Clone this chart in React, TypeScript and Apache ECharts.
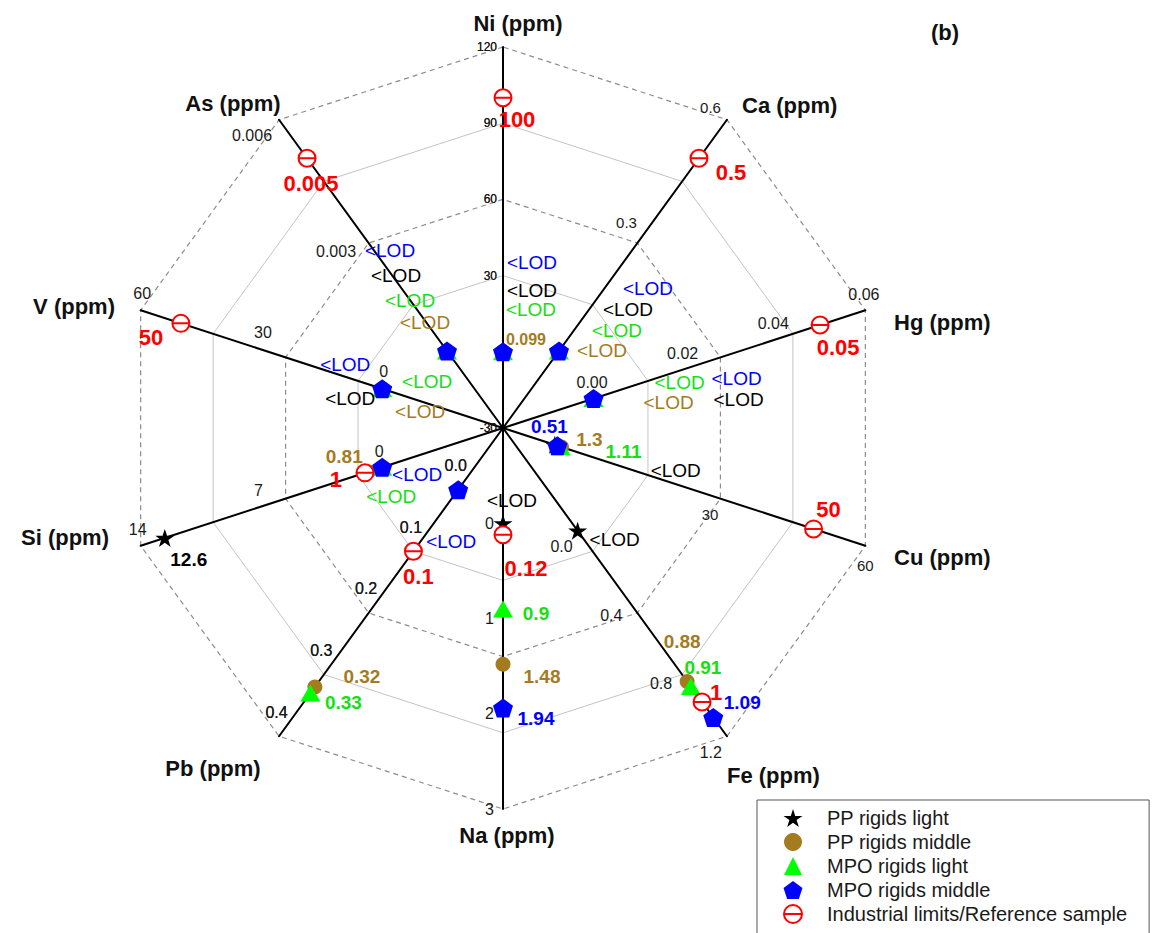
import React, { useEffect, useRef } from 'react';
import * as echarts from 'echarts';

const FONT = '"Liberation Sans", Arial, Helvetica, sans-serif';
const LOD = '<LOD';
type Reading = number | typeof LOD;

// Spokes in the order the radar lays them out (counter-clockwise from the top).
const elements = ['Ni', 'As', 'V', 'Si', 'Pb', 'Na', 'Fe', 'Cu', 'Hg', 'Ca'];
const axisMin = [-30, -0.002, -30, -7, -0.1, -1, -0.6, -10, -0.02, -0.2];
const axisMax = [120, 0.006, 60, 14, 0.4, 3, 1.2, 60, 0.06, 0.6];
const tickLabels = [
  ['-30', '30', '60', '90', '120'],
  ['0.003', '0.006'],
  ['0', '30', '60'],
  ['0', '7', '14'],
  ['0.0', '0.1', '0.2', '0.3', '0.4'],
  ['0', '1', '2', '3'],
  ['0.0', '0.4', '0.8', '1.2'],
  ['30', '60'],
  ['0.00', '0.02', '0.04', '0.06'],
  ['0.3', '0.6'],
];

const seriesNames = [
  'PP rigids light',
  'PP rigids middle',
  'MPO rigids light',
  'MPO rigids middle',
  'Industrial limits/Reference sample',
];
// Readings below the limit of detection sit on the zero of their spoke.
const ppLight: Reading[] = [LOD, LOD, LOD, 12.6, LOD, LOD, LOD, LOD, LOD, LOD];
const ppMiddle: Reading[] = [0.099, LOD, LOD, 0.81, 0.32, 1.48, 0.88, 1.3, LOD, LOD];
const mpoLight: Reading[] = [LOD, LOD, LOD, LOD, 0.33, 0.9, 0.91, 1.11, LOD, LOD];
const mpoMiddle: Reading[] = [LOD, LOD, LOD, LOD, LOD, 1.94, 1.09, 0.51, LOD, LOD];
const limits: Reading[] = [100, 0.005, 50, 1, 0.1, 0.12, 1, 50, 0.05, 0.5];

// ---- layout & styling -------------------------------------------------------

const CENTER = [503, 428];
const RADIUS = 381;

const STAR = 'path://M0,-1L0.2245,-0.309L0.951,-0.309L0.363,0.118L0.588,0.809L0,0.382L-0.588,0.809L-0.363,0.118L-0.951,-0.309L-0.2245,-0.309Z';
const PENTAGON = 'path://M0,-1L0.951,-0.309L0.588,0.809L-0.588,0.809L-0.951,-0.309Z';
const TRIANGLE = 'path://M0,-1L1,1L-1,1Z';
const LIMIT_MARK = 'emptyPath://M-1,0A1,1,0,1,1,1,0A1,1,0,1,1,-1,0ZM-1,0L1,0';

// Which overlaid radar carries each spoke's tick labels (its split count).
const TICK_SPLIT = [5, 8, 9, 9, 5, 8, 9, 7, 8, 8];
const TICK_PLACEMENT: any[] = [
  { align: 'right', verticalAlign: 'middle', padding: [0, 6, 0, 0], fontSize: 12 },
  { align: 'right', verticalAlign: 'top', padding: [8, 7, 0, 0], fontSize: 16 },
  { align: 'center', verticalAlign: 'bottom', padding: [0, 0, 9, 3], fontSize: 16 },
  { align: 'center', verticalAlign: 'bottom', padding: [0, 6, 8, 0], fontSize: 16 },
  { align: 'center', verticalAlign: 'bottom', padding: [0, 5, 16, 0], fontSize: 16 },
  { align: 'right', verticalAlign: 'middle', padding: [2, 9, 0, 0], fontSize: 16 },
  { align: 'right', verticalAlign: 'top', padding: [8, 5, 0, 0], fontSize: 16 },
  { align: 'center', verticalAlign: 'top', padding: [12, 0, 0, 0], fontSize: 15 },
  { align: 'center', verticalAlign: 'bottom', padding: [0, 3, 8, 0], fontSize: 16 },
  { align: 'right', verticalAlign: 'bottom', padding: [0, 6, 5, 0], fontSize: 15 },
];

const NAME_POS: [number, number, string][] = [
  [518, 23, 'center'],
  [233, 103, 'center'],
  [115, 306, 'right'],
  [109, 537, 'right'],
  [213, 768, 'center'],
  [507, 835, 'center'],
  [727, 775, 'left'],
  [894, 557, 'left'],
  [894, 322, 'left'],
  [742, 105, 'left'],
];

// Offset of each value label from its marker: [dx, dy, fontSize?]; null = no label.
type Nudge = [number, number, number?] | null;
const NUDGE_PP_LIGHT: Nudge[] = [[29, -61], [-51, -75], [-32, 10], [24, 22], null, [9, -23], [37, 9], [121, 26], [145, 1], [69, -41]];
const NUDGE_PP_MIDDLE: Nudge[] = [[23, -12, 16], [-22, -28], [38, 23], [-24, -15], [47, -10], [39, 12], [-5, -40], [28, -8], [75, 4], [43, 0]];
const NUDGE_MPO_LIGHT: Nudge[] = [[28, -42], [-37, -50], [45, -7], [9, 29], [33, 9], [33, 5], [12, -19], [63, 5], [86, -16], [58, -20]];
const NUDGE_MPO_MIDDLE: Nudge[] = [[29, -89], [-57, -100], [-37, -24], [35, 7], [-7, 52], [33, 10], [29, -15], [-8, -19], [143, -20], [89, -62]];
const NUDGE_LIMITS: Nudge[] = [[14, 22], [4, 25], [-30, 14], [-29, 7], [5, 25], [23, 34], [14, -9], [15, -19], [18, 23], [32, 14]];

const BROWN = '#A47B1E';

function tickFormatter(i: number) {
  const tol = (axisMax[i] - axisMin[i]) * 1e-6;
  return (v: number) => tickLabels[i].find((s) => Math.abs(parseFloat(s) - v) < tol) ?? '';
}

function indicators(split: number) {
  return elements.map((el, i) => ({
    name: `${el} (ppm)`,
    min: axisMin[i],
    max: axisMax[i],
    axisLabel: {
      show: TICK_SPLIT[i] === split,
      margin: 0,
      color: '#1a1a1a',
      fontFamily: FONT,
      formatter: tickFormatter(i),
      ...TICK_PLACEMENT[i],
    },
  }));
}

function radar(split: number, extra: any) {
  return {
    center: CENTER,
    radius: RADIUS,
    startAngle: 90,
    shape: 'polygon',
    splitNumber: split,
    indicator: indicators(split),
    axisName: { show: false },
    axisTick: { show: false },
    axisLabel: { show: false },
    axisLine: { show: false },
    splitLine: { show: false },
    splitArea: { show: false },
    ...extra,
  };
}

function valueLabel(readings: Reading[], nudges: Nudge[], color: string, valueSize: number) {
  const rich: Record<string, any> = {};
  readings.forEach((r, i) => {
    const n = nudges[i];
    if (!n) return;
    const [dx, dy, size] = n;
    const isLod = r === LOD;
    rich['d' + i] = {
      color,
      fontFamily: FONT,
      fontSize: size ?? (isLod ? 19 : valueSize),
      fontWeight: isLod ? 'normal' : 'bold',
      padding: [Math.max(0, 2 * dy), Math.max(0, -2 * dx), Math.max(0, -2 * dy), Math.max(0, 2 * dx)],
    };
  });
  return {
    show: true,
    position: 'inside',
    color,
    textBorderWidth: 0,
    textBorderColor: 'transparent',
    formatter: (p: any) => {
      const i = p.dimensionIndex;
      if (!nudges[i]) return '';
      const r = readings[i];
      return `{d${i}|${r === LOD ? LOD : String(r)}}`;
    },
    rich,
  };
}

function markerSeries(
  name: string,
  readings: Reading[],
  nudges: Nudge[],
  color: string,
  textColor: string,
  symbol: string,
  symbolSize: number | number[],
  valueSize: number,
) {
  return {
    type: 'radar',
    radarIndex: 0,
    name,
    silent: true,
    symbol,
    symbolSize,
    itemStyle: { color },
    lineStyle: { opacity: 0, width: 0 },
    emphasis: { disabled: true },
    label: valueLabel(readings, nudges, textColor, valueSize),
    data: [{ name, value: readings.map((r) => (r === LOD ? 0 : r)) }],
  };
}

function buildOption() {
  const none = 'none';
  return {
    animation: false,
    backgroundColor: '#ffffff',
    radar: [
      radar(5, {
        axisLine: { show: true, lineStyle: { color: '#000', width: 2 } },
        splitLine: { show: true, lineStyle: { width: 1, color: [none, none, '#c4c4c4', none, '#c4c4c4', none] } },
      }),
      radar(5, {
        splitLine: {
          show: true,
          lineStyle: { width: 1.2, type: [5, 4], color: [none, none, none, '#8c8c8c', none, '#8c8c8c'] },
        },
      }),
      radar(8, {}),
      radar(9, {}),
      radar(7, {}),
    ],
    legend: {
      orient: 'vertical',
      left: 757,
      top: 800,
      height: 300,
      padding: [8, 22, 14, 26],
      itemGap: 4,
      itemWidth: 20,
      itemHeight: 18,
      borderColor: '#555',
      borderWidth: 1,
      selectedMode: false,
      textStyle: { fontSize: 20, fontFamily: FONT, color: '#1a1a1a', padding: [0, 0, 0, 19] },
      data: [
        { name: seriesNames[0], icon: STAR },
        { name: seriesNames[1], icon: 'circle' },
        { name: seriesNames[2], icon: TRIANGLE },
        { name: seriesNames[3], icon: PENTAGON },
        { name: seriesNames[4], icon: LIMIT_MARK },
      ],
    },
    graphic: [
      ...elements.map((el, i) => ({
        type: 'text',
        x: NAME_POS[i][0],
        y: NAME_POS[i][1],
        silent: true,
        style: {
          text: `${el} (ppm)`,
          fontSize: 22,
          fontWeight: 'bold',
          fontFamily: FONT,
          fill: '#111',
          align: NAME_POS[i][2],
          verticalAlign: 'middle',
        },
      })),
      {
        type: 'text',
        x: 945,
        y: 32,
        silent: true,
        style: { text: '(b)', fontSize: 22, fontWeight: 'bold', fontFamily: FONT, fill: '#111', align: 'center', verticalAlign: 'middle' },
      },
    ],
    series: [
      markerSeries(seriesNames[0], ppLight, NUDGE_PP_LIGHT, '#000000', '#000000', STAR, [19, 18], 19),
      markerSeries(seriesNames[1], ppMiddle, NUDGE_PP_MIDDLE, BROWN, BROWN, 'circle', 15, 19),
      markerSeries(seriesNames[2], mpoLight, NUDGE_MPO_LIGHT, '#00FF00', '#14E014', 'triangle', [20, 17], 19),
      markerSeries(seriesNames[4], limits, NUDGE_LIMITS, '#FF0000', '#FF0000', LIMIT_MARK, 17, 22),
      markerSeries(seriesNames[3], mpoMiddle, NUDGE_MPO_MIDDLE, '#0000FF', '#0000FF', PENTAGON, [20, 19], 19),
    ],
  };
}

export default function App() {
  const ref = useRef<HTMLDivElement>(null);
  useEffect(() => {
    if (!ref.current) return;
    const chart = echarts.init(ref.current, null, { renderer: 'svg' });
    chart.setOption(buildOption() as any);
    return () => chart.dispose();
  }, []);
  return (
    <div
      ref={ref}
      style={{ position: 'absolute', left: 0, top: 0, width: 1155, height: 933, background: '#fff' }}
    />
  );
}
